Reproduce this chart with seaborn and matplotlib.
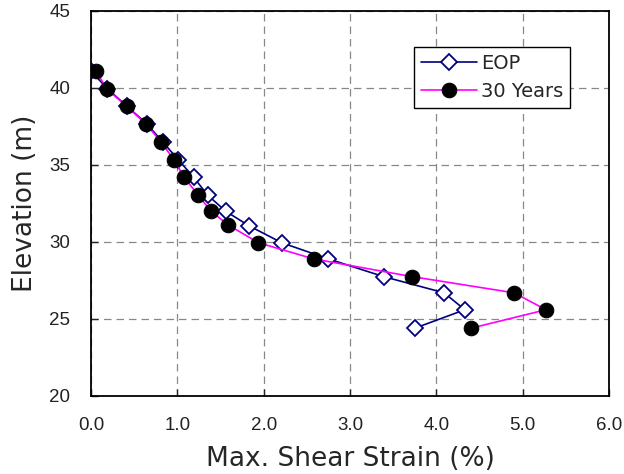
import matplotlib
matplotlib.use("Agg")
import matplotlib.pyplot as plt  # type: ignore
import seaborn as sns  # type: ignore

# EOP (end of primary consolidation)
eop_strain = [0.00, 0.19, 0.42, 0.65, 0.83, 1.01, 1.19, 1.35, 1.56, 1.83, 2.21, 2.75, 3.39, 4.09, 4.33, 3.75]
eop_elev = [41.1, 39.95, 38.8, 37.65, 36.5, 35.35, 34.2, 33.05, 32.0, 31.05, 29.95, 28.9, 27.75, 26.7, 25.6, 24.4]

# 30 years after construction
y30_strain = [0.06, 0.18, 0.415, 0.64, 0.81, 0.96, 1.08, 1.24, 1.39, 1.59, 1.94, 2.58, 3.72, 4.90, 5.27, 4.40]
y30_elev = [41.1, 39.95, 38.8, 37.65, 36.5, 35.35, 34.2, 33.05, 32.0, 31.1, 29.95, 28.9, 27.75, 26.7, 25.6, 24.4]

x_ticks = [0.0, 1.0, 2.0, 3.0, 4.0, 5.0, 6.0]
y_ticks = [20, 25, 30, 35, 40, 45]

sns.set_style("ticks")
plt.rcParams["font.family"] = ["Liberation Sans", "DejaVu Sans"]

fig = plt.figure(figsize=(6.24, 4.74), dpi=100)
ax = fig.add_axes([0.1458, 0.1646, 0.8302, 0.8122])

sns.lineplot(x=eop_strain, y=eop_elev, sort=False, estimator=None, ax=ax,
             color="#000080", linewidth=1.2, marker="D", markersize=8,
             markerfacecolor="white", markeredgecolor="#000080",
             markeredgewidth=1.3, label="EOP")
sns.lineplot(x=y30_strain, y=y30_elev, sort=False, estimator=None, ax=ax,
             color="#ff00ff", linewidth=1.2, marker="o", markersize=10.5,
             markerfacecolor="black", markeredgecolor="black",
             label="30 Years")

ax.set_xlim(0, 6)
ax.set_ylim(20, 45)
ax.set_xticks(x_ticks)
ax.set_xticklabels([f"{t:.1f}" for t in x_ticks])
ax.set_yticks(y_ticks)
ax.grid(True, color="#888888", linestyle=(0, (6, 4)), linewidth=0.9)
ax.tick_params(direction="in", length=5, width=1, labelsize=13.5,
               labelcolor="#222222")
ax.tick_params(axis="x", pad=15)
ax.tick_params(axis="y", pad=15)
for s in ax.spines.values():
    s.set_visible(True)
    s.set_color("black")
    s.set_linewidth(1.3)

ax.set_xlabel("Max. Shear Strain (%)", fontsize=19, labelpad=9,
              family="DejaVu Sans")
ax.set_ylabel("Elevation (m)", fontsize=19, labelpad=8,
              family="DejaVu Sans")

leg = ax.legend(loc="upper left", bbox_to_anchor=(0.624, 0.906),
                prop={"family": "DejaVu Sans", "size": 14},
                frameon=True, fancybox=False, framealpha=1, edgecolor="black",
                handlelength=2.9, borderpad=0.35, labelspacing=0.45,
                handletextpad=0.2, borderaxespad=0)
leg.get_frame().set_linewidth(1.0)

fig.savefig("out.png", dpi=100)
